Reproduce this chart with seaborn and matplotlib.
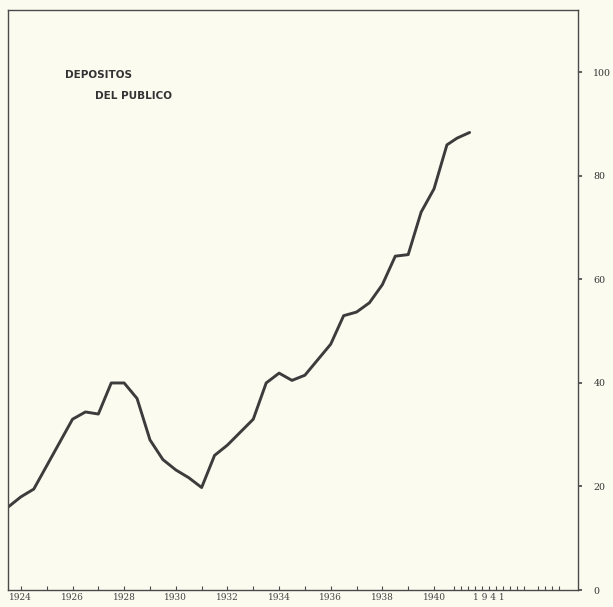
import numpy as np
import pandas as pd
import seaborn as sns
import matplotlib.pyplot as plt
from matplotlib.transforms import blended_transform_factory

# semiannual readings, then monthly in 1941
fechas = [1924.0, 1924.5, 1925.0, 1925.5, 1926.0, 1926.5, 1927.0, 1927.5,
          1928.0, 1928.5, 1929.0, 1929.5, 1930.0, 1930.5, 1931.0, 1931.5,
          1932.0, 1932.5, 1933.0, 1933.5, 1934.0, 1934.5, 1935.0, 1935.5,
          1936.0, 1936.5, 1937.0, 1937.5, 1938.0, 1938.5, 1939.0, 1939.5,
          1940.0, 1940.5, 1941.0, 1941.12, 1941.27]
depositos = [16, 18, 19.5, 24, 28.5, 33, 34.4, 34, 40, 40, 37, 29,
             25.2, 23.2, 21.7, 19.8, 26, 28, 30.5, 33, 40, 41.9, 40.5, 41.5,
             44.5, 47.5, 53, 53.7, 55.5, 59, 64.5, 64.8, 73, 77.5, 86, 87.3, 88.4]

etiquetas_anos = ["1924", "1926", "1928", "1930", "1932", "1934", "1936", "1938", "1940"]
yticks = [0, 20, 40, 60, 80, 100]

df = pd.DataFrame({"fecha": fechas, "depositos": depositos})

# 1941 is drawn stretched (monthly scale)
K = 84 / 25.8


def fwd(t):
    t = np.asarray(t, dtype=float)
    return np.where(t <= 1941, t, 1941 + (t - 1941) * K)


def inv(u):
    u = np.asarray(u, dtype=float)
    return np.where(u <= 1941, u, 1941 + (u - 1941) / K)


sns.set_theme(style="white")
papel = "#fcfbf0"
tinta = "#4a4a4a"

fig = plt.figure(figsize=(6.13, 6.07), dpi=100, facecolor=papel)
ax = fig.add_axes([0.013, 0.028, 0.930, 0.955])
ax.set_facecolor(papel)

sns.lineplot(data=df, x="fecha", y="depositos", ax=ax, color="#3c3c3c",
             linewidth=2.1, legend=False)

ax.set_xscale("function", functions=(fwd, inv))
ax.set_xlim(1924, 1942.56)
ax.set_ylim(0, 112)
ax.set_xlabel("")
ax.set_ylabel("")

for s in ax.spines.values():
    s.set_color(tinta)
    s.set_linewidth(1.0)

# y axis on right
ax.yaxis.tick_right()
ax.set_yticks(yticks)
ax.set_yticklabels([str(v) for v in yticks], family="DejaVu Serif", fontsize=6.8, color="#333333")
ax.tick_params(axis="y", direction="out", length=3, color=tinta, pad=8)

# x ticks: years, half years, months in 1941
mayores = list(range(1925, 1942))
menores = [y + 0.5 for y in range(1924, 1941)] + [1941 + m / 12 for m in range(1, 17) if m != 12]
ax.set_xticks(mayores)
ax.set_xticks(menores, minor=True)
ax.set_xticklabels([])
ax.tick_params(axis="x", which="major", direction="in", length=5, color=tinta, width=1)
ax.tick_params(axis="x", which="minor", direction="in", length=3, color=tinta, width=0.8, bottom=True)

tr = blended_transform_factory(ax.transData, ax.transAxes)
for lab in etiquetas_anos:
    ax.text(int(lab) + 0.5, -0.006, lab, transform=tr, ha="center", va="top",
            family="DejaVu Serif", fontsize=6.5, color="#444444")
ax.text(1941.5, -0.006, "1 9 4 1", transform=tr, ha="center", va="top",
        family="DejaVu Serif", fontsize=6.5, color="#444444")

# titulo
ax.text(0.10, 0.888, "DEPOSITOS", transform=ax.transAxes, family="DejaVu Sans",
        fontweight="bold", fontsize=7.5, color="#333333", va="center")
ax.text(0.153, 0.853, "DEL PUBLICO", transform=ax.transAxes, family="DejaVu Sans",
        fontweight="bold", fontsize=7.5, color="#333333", va="center")

fig.savefig("out.png", dpi=100, facecolor=papel)
